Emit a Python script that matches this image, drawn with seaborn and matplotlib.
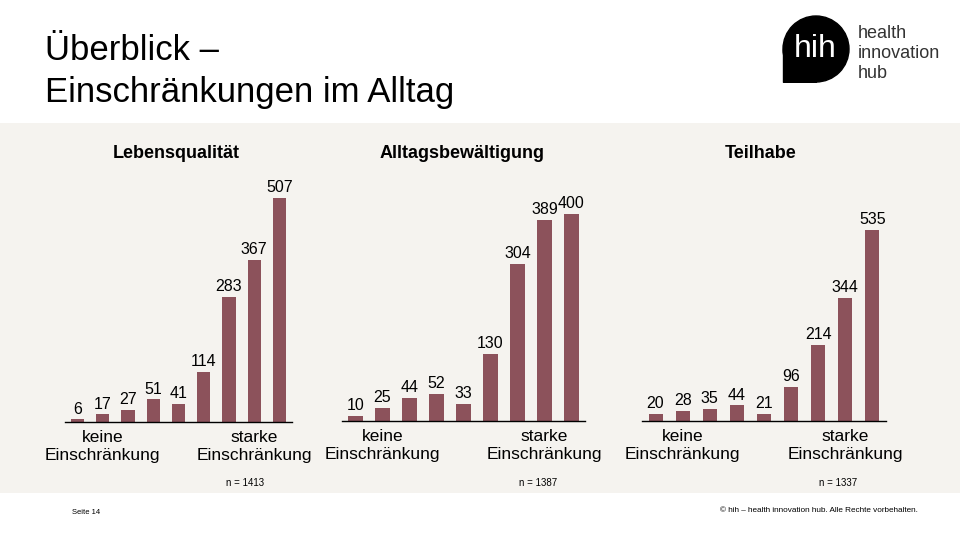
import matplotlib
matplotlib.use("Agg")
import matplotlib.pyplot as plt
import seaborn as sns
import pandas as pd
from matplotlib.patches import Rectangle, Circle

# Daten
stufen = ["0", "1", "2", "3", "4", "5", "6", "7", "8"]
lebensqualitaet = [6, 17, 27, 51, 41, 114, 283, 367, 507]
alltagsbewaeltigung = [10, 25, 44, 52, 33, 130, 304, 389, 400]
teilhabe = [20, 28, 35, 44, 21, 96, 214, 344, 535]
titel = ["Lebensqualität", "Alltagsbewältigung", "Teilhabe"]
n_werte = ["n = 1413", "n = 1387", "n = 1337"]
tick_text = ["keine\nEinschränkung", "starke\nEinschränkung"]

sns.set_theme(style="white")
plt.rcParams['font.family'] = ['Liberation Sans', 'DejaVu Sans']
plt.rcParams['text.color'] = 'black'
plt.rcParams['xtick.color'] = 'black'
plt.rcParams['axes.labelcolor'] = 'black'

W, H = 960, 540
bar_color = "#8c525b"
bg_color = "#f5f3ef"

fig = plt.figure(figsize=(9.6, 5.4), dpi=100)
fig.patch.set_facecolor("white")


def px(x, y):
    # Pixel -> Figure-Koordinaten
    return x / W, 1 - y / H


# grauer Hintergrundbereich
fig.patches.append(Rectangle(px(0, 493), 1, 370 / H, transform=fig.transFigure,
                             facecolor=bg_color, edgecolor="none", zorder=-5))

# Titel
fig.text(*px(45, 60), "Überblick –", fontsize=25, va="baseline", ha="left")
fig.text(*px(45, 102), "Einschränkungen im Alltag", fontsize=25, va="baseline", ha="left")

# Logo
ax_logo = fig.add_axes([782 / W, 1 - 83 / H, 68 / W, 68 / H])
ax_logo.set_xlim(0, 68)
ax_logo.set_ylim(0, 68)
ax_logo.set_aspect("equal")
ax_logo.axis("off")
ax_logo.add_patch(Circle((34, 34), 33, color="black"))
ax_logo.add_patch(Rectangle((1, 1), 33, 33, color="black"))
ax_logo.text(33, 34, "hih", color="white", fontsize=23, ha="center", va="center")
fig.text(*px(858, 33), "health", fontsize=13, color="#333333", va="center")
fig.text(*px(858, 53), "innovation", fontsize=13, color="#333333", va="center")
fig.text(*px(858, 73), "hub", fontsize=13, color="#333333", va="center")

# Panels: (werte, x_links, x_rechts, y_basis, y_oben, x_titel)
panels = [
    (lebensqualitaet, 65, 292, 422, 198, 176),
    (alltagsbewaeltigung, 342, 585, 421, 214, 462),
    (teilhabe, 642, 886, 421, 230, 761),
]
n_pos = [245, 538, 838]

for i, (werte, x0, x1, yb, yt, tx) in enumerate(panels):
    df = pd.DataFrame({"stufe": stufen, "anzahl": werte})
    left, bottom = px(x0, yb)
    ax = fig.add_axes([left, bottom, (x1 - x0) / W, (yb - yt) / H])
    ax.set_zorder(2)
    sns.barplot(data=df, x="stufe", y="anzahl", color=bar_color, width=0.52,
                saturation=1, linewidth=0, edgecolor="none", ax=ax)
    ax.set_xlim(-0.5, len(stufen) - 0.5)
    ax.set_ylim(0, max(werte))
    ax.patch.set_alpha(0)
    for s in ["top", "right", "left"]:
        ax.spines[s].set_visible(False)
    ax.spines["bottom"].set_color("black")
    ax.spines["bottom"].set_linewidth(1)
    ax.set_yticks([])
    ax.set_xticks([1, 7])
    ax.set_xticklabels(tick_text, fontsize=12.5)
    ax.tick_params(axis="x", length=0, pad=6)
    ax.set_xlabel("")
    ax.set_ylabel("")
    ax.bar_label(ax.containers[0], padding=2, fontsize=11.5, clip_on=False)

    fig.text(*px(tx, 153), titel[i], fontsize=13, fontweight="bold", ha="center", va="center")
    fig.text(*px(n_pos[i], 483), n_werte[i], fontsize=7, ha="center", va="center")

# Fusszeile
fig.text(*px(72, 512), "Seite 14", fontsize=5.5, ha="left", va="center")
fig.text(*px(918, 511), "© hih – health innovation hub. Alle Rechte vorbehalten.", fontsize=5.9,
         ha="right", va="center")

fig.savefig("out.png", dpi=100, facecolor=fig.get_facecolor())
